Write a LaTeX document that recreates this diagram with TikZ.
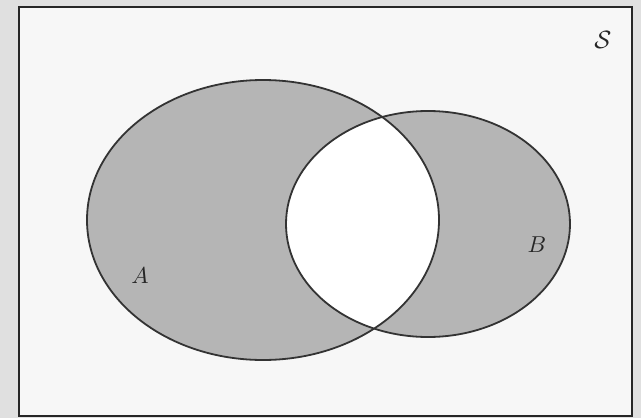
\documentclass[tikz,border=0pt]{standalone}
\begin{document}
\begin{tikzpicture}[x=1pt,y=-1pt,
  setline/.style={draw=black!80, line width=1.8pt},
  lbl/.style={text=black!85, inner sep=0pt}]
\useasboundingbox (0,0) rectangle (641,418);
\fill[black!12] (0,0) rectangle (641,418);
\node[draw=black!85, line width=1.4pt, fill=white!97!black, minimum width=613pt, minimum height=409pt, inner sep=0pt] (S) at (325.5,211.5) {};
\fill[black!29] (263,220) ellipse [x radius=176, y radius=140];
\fill[black!29] (428,224) ellipse [x radius=142, y radius=113];
\begin{scope}
  \clip (263,220) ellipse [x radius=176, y radius=140];
  \fill[white] (428,224) ellipse [x radius=142, y radius=113];
\end{scope}
\draw[setline] (263,220) ellipse [x radius=176, y radius=140];
\draw[setline] (428,224) ellipse [x radius=142, y radius=113];
\node[lbl] (la) at (140,276) {\scalebox{2.3}{$A$}};
\node[lbl] (lb) at (537,245) {\scalebox{2.3}{$B$}};
\node[lbl] (ls) at (603,40) {\scalebox{2.5}{$\mathcal{S}$}};
\end{tikzpicture}
\end{document}
